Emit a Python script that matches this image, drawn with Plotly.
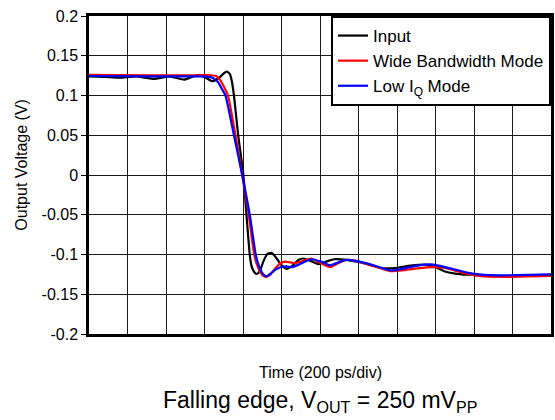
import plotly.graph_objects as go

# Time axis in ps (200 ps/div, 12 divisions)
t_input = [0, 82, 160, 247, 340, 418, 495, 531, 572, 603, 639, 675, 701, 716, 732, 742, 753, 775, 802,
           818, 835, 845, 858, 871, 887, 907, 928, 948, 969, 995, 1026, 1057, 1088, 1113, 1150, 1191,
           1232, 1273, 1345, 1412, 1474, 1516, 1588, 1670, 1758, 1809, 1845, 1902, 1964, 2134, 2273, 2400]
v_input = [0.124, 0.1235, 0.1225, 0.124, 0.121, 0.124, 0.120, 0.123, 0.126, 0.123, 0.118, 0.122, 0.128, 0.130,
           0.127, 0.118, 0.100, 0.050, 0.0, -0.05, -0.100, -0.115, -0.122, -0.1245,
           -0.121, -0.108, -0.099, -0.098, -0.103, -0.112, -0.118, -0.114, -0.107, -0.105, -0.108, -0.112,
           -0.109, -0.106, -0.107, -0.110, -0.114, -0.117, -0.117, -0.114, -0.113, -0.117, -0.121, -0.124,
           -0.1255, -0.1275, -0.127, -0.1255]

t_wide = [0, 314, 572, 634, 660, 680, 701, 722, 761, 796, 830, 858, 873, 892, 907, 924, 943,
          969, 995, 1021, 1046, 1072, 1113, 1155, 1206, 1253, 1294, 1330, 1387, 1448, 1510, 1567, 1629, 1706,
          1794, 1851, 1912, 1979, 2052, 2119, 2222, 2400]
v_wide = [0.126, 0.1255, 0.1255, 0.1255, 0.1245, 0.120, 0.111, 0.100, 0.050, 0.0, -0.05,
          -0.1, -0.113, -0.123, -0.127, -0.128, -0.125, -0.117, -0.111, -0.109, -0.110, -0.111, -0.108,
          -0.105, -0.111, -0.116, -0.111, -0.107, -0.108, -0.1125, -0.117, -0.121, -0.120, -0.1175, -0.116,
          -0.117, -0.121, -0.125, -0.1275, -0.128, -0.128, -0.127]

t_lowiq = [0, 314, 572, 624, 644, 670, 691, 709, 753, 796, 835, 866, 882, 897, 910, 924, 943,
           969, 995, 1026, 1052, 1077, 1113, 1155, 1206, 1253, 1294, 1330, 1387, 1448, 1510, 1567, 1629, 1706,
           1773, 1815, 1887, 1979, 2082, 2222, 2400]
v_lowiq = [0.1245, 0.124, 0.124, 0.1235, 0.122, 0.117, 0.108, 0.100, 0.050, 0.0, -0.05,
           -0.1, -0.114, -0.122, -0.126, -0.1275, -0.124, -0.119, -0.116, -0.115, -0.116, -0.114, -0.110,
           -0.106, -0.109, -0.1135, -0.110, -0.107, -0.108, -0.1115, -0.116, -0.120, -0.118, -0.114, -0.1125,
           -0.114, -0.118, -0.1235, -0.126, -0.126, -0.125]

series_names = ["Input", "Wide Bandwidth Mode", "Low I<sub>Q</sub> Mode"]
series_colors = ["#000000", "#ff0000", "#0000ff"]

y_tickvals = [0.2, 0.15, 0.1, 0.05, 0, -0.05, -0.1, -0.15, -0.2]
y_ticktext = ["0.2", "0.15", "0.1", "0.05", "0", "-0.05", "-0.1", "-0.15", "-0.2"]

FONT = "Liberation Sans, Arial, sans-serif"

fig = go.Figure()
for (tx, vy), name, col in zip([(t_input, v_input), (t_wide, v_wide), (t_lowiq, v_lowiq)],
                               series_names, series_colors):
    fig.add_trace(go.Scatter(x=tx, y=vy, mode="lines", name=name,
                             line=dict(color=col, width=2.2, shape="spline", smoothing=0.5)))

fig.update_layout(
    width=555, height=420,
    margin=dict(l=89, r=1, t=16, b=86),
    paper_bgcolor="white", plot_bgcolor="white",
    font=dict(family=FONT, color="black", size=16),
    showlegend=True,
    legend=dict(x=1, y=1, xanchor="right", yanchor="top", bgcolor="white",
                bordercolor="black", borderwidth=2, font=dict(size=17, family=FONT),
                tracegroupgap=0),
    xaxis=dict(range=[0, 2400], dtick=200, tick0=0, showticklabels=False, ticks="",
               showgrid=True, gridcolor="#1a1a1a", gridwidth=1, zeroline=False,
               showline=True, linecolor="black", linewidth=2.5, mirror=True),
    yaxis=dict(range=[-0.2, 0.2], tickvals=y_tickvals, ticktext=y_ticktext,
               ticks="outside", ticklen=5, tickcolor="black", tickwidth=1,
               tickfont=dict(size=16, family=FONT),
               showgrid=True, gridcolor="#1a1a1a", gridwidth=1, zeroline=False,
               showline=True, linecolor="black", linewidth=2.5, mirror=True),
    annotations=[
        dict(text="Time (200 ps/div)", xref="paper", yref="paper", x=0.5, y=-0.1195,
             xanchor="center", yanchor="middle", showarrow=False, font=dict(size=16, family=FONT)),
        dict(text="Falling edge, V<sub>OUT</sub> = 250 mV<sub>PP</sub>", xref="paper", yref="paper",
             x=0.5, y=-0.213, xanchor="center", yanchor="middle", showarrow=False,
             font=dict(size=23, family=FONT)),
        dict(text="Output Voltage (V)", xref="paper", yref="paper", x=-0.146, y=0.531,
             xanchor="center", yanchor="middle", textangle=-90, showarrow=False,
             font=dict(size=16, family=FONT)),
    ],
)

fig.write_html("out.html", config={"displayModeBar": False},
               post_script="document.body.style.margin='0px';document.body.style.overflow='hidden';")
